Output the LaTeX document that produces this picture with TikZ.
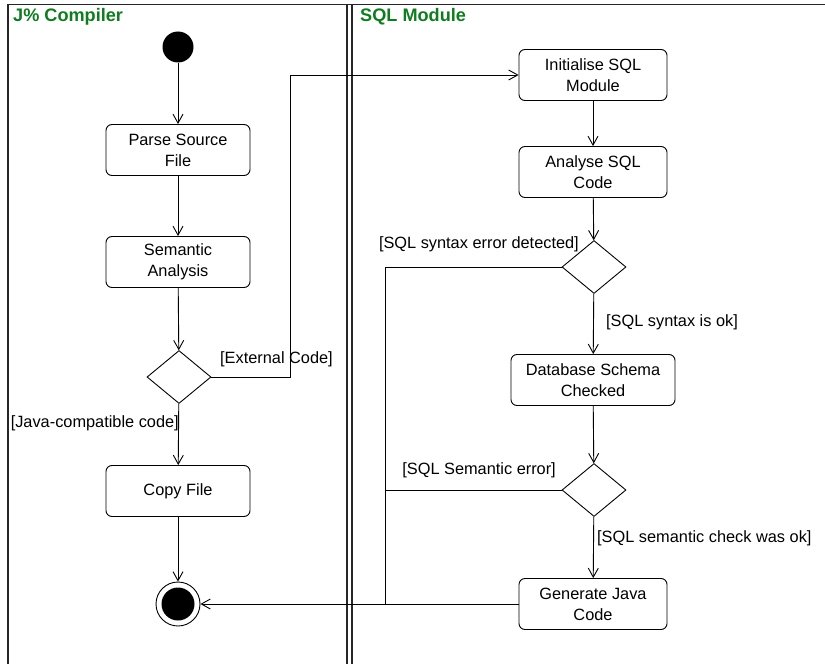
\documentclass[tikz,border=0pt]{standalone}
\usepackage{fontspec}
\setmainfont{Liberation Sans}
\usetikzlibrary{arrows.meta,shapes.geometric}
\definecolor{lanegreen}{RGB}{16,124,32}
\begin{document}
\begin{tikzpicture}[x=1bp,y=-1bp,
  lane/.style={draw=black!85,line width=1.6bp},
  act/.style={draw,rounded corners=6bp,line width=0.9bp,minimum width=144bp,minimum height=51bp,align=center,font=\fontsize{16.4}{21}\selectfont,inner sep=2bp},
  dec/.style={draw,diamond,line width=0.9bp,minimum width=64bp,minimum height=53bp,inner sep=0pt,aspect=1.2},
  flow/.style={line width=0.9bp,-{Straight Barb[length=9bp,width=10bp,line width=0.9bp]}},
  line/.style={line width=0.9bp},
  guard/.style={font=\fontsize{16.4}{20}\selectfont,inner sep=0pt},
  lanetitle/.style={font=\fontsize{18.2}{21}\selectfont\bfseries,text=lanegreen,anchor=north west,inner sep=0pt}]
\useasboundingbox (0,0) rectangle (825,664);
% lanes
\draw[lane] (8,665) -- (8,4.5) -- (826,4.5);
\draw[lane] (347,4.5) -- (347,665);
\draw[lane] (352,4.5) -- (352,665);
\node[lanetitle] (t1) at (13,8) {J\% Compiler};
\node[lanetitle] (t2) at (360,8) {SQL Module};
% left lane nodes
\node[circle,fill=black,minimum size=31bp,inner sep=0pt] (start) at (178,47) {};
\node[act] (parse) at (178,150) {Parse Source\\File};
\node[act] (sem) at (178,262) {Semantic\\Analysis};
\node[dec] (d1) at (179,377) {};
\node[act] (copy) at (178,491) {Copy File};
\node[circle,draw,line width=0.9bp,minimum size=44bp,inner sep=0pt] (end) at (178,604) {};
\node[circle,fill=black,minimum size=33bp,inner sep=0pt] (endin) at (178,604) {};
% right lane nodes
\node[act,minimum width=148bp] (init) at (593,75) {Initialise SQL\\Module};
\node[act,minimum width=148bp] (anal) at (593,172) {Analyse SQL\\Code};
\node[dec] (d2) at (594,267) {};
\node[act,minimum width=164bp] (db) at (593,380) {Database Schema\\Checked};
\node[dec] (d3) at (594,490) {};
\node[act,minimum width=148bp] (gen) at (593,604) {Generate Java\\Code};
% coordinates
\coordinate (c1) at (290,377);
\coordinate (c2) at (290,75);
\coordinate (c3) at (385,267);
\coordinate (c4) at (385,490);
\coordinate (c5) at (385,604);
% flows
\draw[flow] (start) -- (parse);
\draw[flow] (parse) -- (sem);
\draw[flow] (sem) -- (d1);
\draw[flow] (d1) -- (copy);
\draw[flow] (copy) -- (end);
\draw[flow] (d1.east) -- (c1) -- (c2) -- (init.west);
\draw[flow] (init) -- (anal);
\draw[flow] (anal) -- (d2);
\draw[flow] (d2) -- (db);
\draw[flow] (db) -- (d3);
\draw[flow] (d3) -- (gen);
\draw[line] (d2.west) -- (c3) -- (c5);
\draw[line] (d3.west) -- (c4);
\draw[flow] (gen.west) -- (end.east);
% guards
\node[guard,anchor=east] (g1) at (333,359) {[External Code]};
\node[guard,anchor=east] (g2) at (179,423) {[Java-compatible code]};
\node[guard,anchor=east] (g3) at (579,244) {[SQL syntax error detected]};
\node[guard,anchor=west] (g4) at (606,322) {[SQL syntax is ok]};
\node[guard,anchor=east] (g5) at (556,470) {[SQL Semantic error]};
\node[guard,anchor=west] (g6) at (597,538) {[SQL semantic check was ok]};
\end{tikzpicture}
\end{document}
